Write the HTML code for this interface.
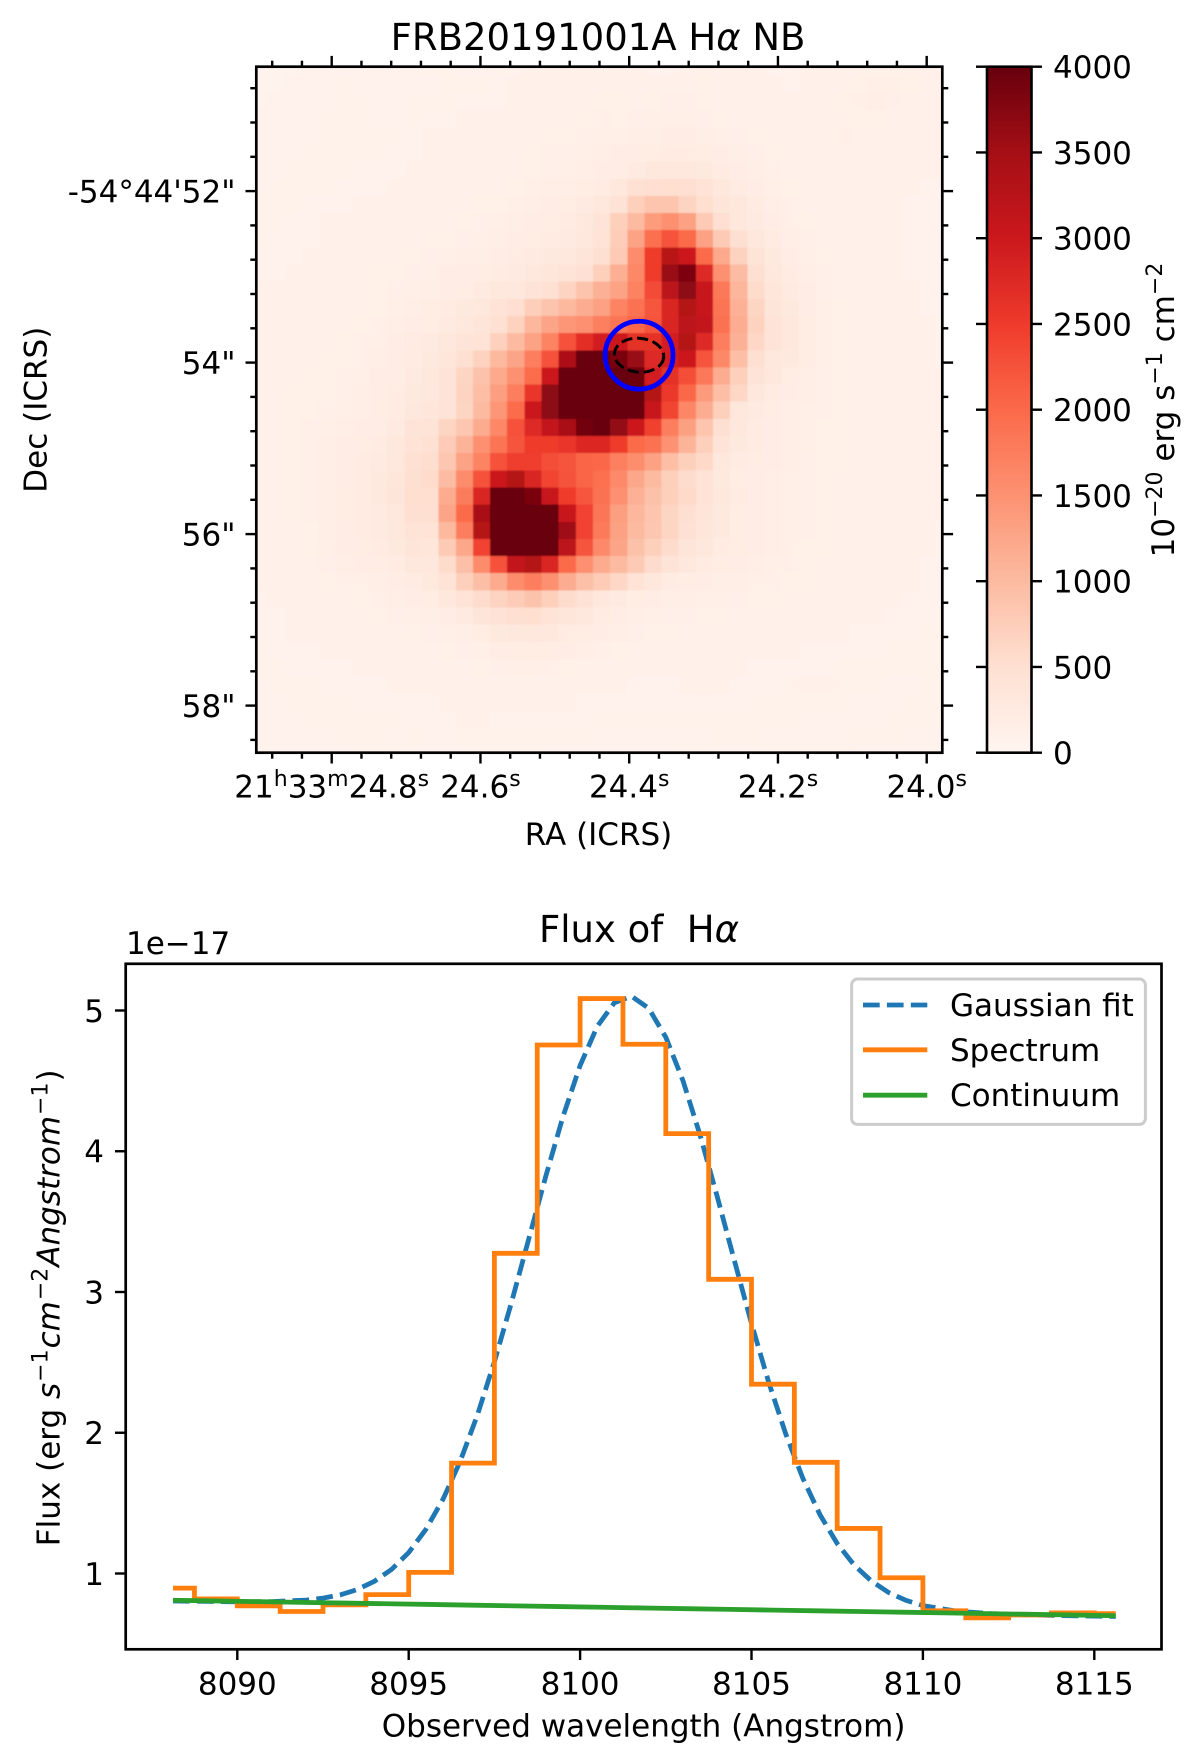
<!DOCTYPE html>
<html lang="en">
<head>
<meta charset="utf-8">
<title>FRB20191001A H-alpha narrow band and flux spectrum</title>
<style>
html,body{margin:0;padding:0;background:#fff;}
svg{display:block;}
text{font-family:"DejaVu Sans","Liberation Sans",sans-serif;fill:#000;}
</style>
</head>
<body>
<svg id="figure" xmlns="http://www.w3.org/2000/svg" width="1200" height="1748" viewBox="0 0 1200 1748">
  <defs>
    <clipPath id="map-clip"><rect x="256.3" y="66.7" width="686" height="686"/></clipPath>
    <clipPath id="spec-clip"><rect x="125.7" y="963.8" width="1035.8" height="685.5"/></clipPath>
    <filter id="soften" x="-2%" y="-2%" width="104%" height="104%"><feGaussianBlur stdDeviation="0.8"/></filter>
  </defs>
  <rect x="0" y="0" width="1200" height="1748" fill="#fff"/>
  <g clip-path="url(#map-clip)">
    <g id="heatmap" filter="url(#soften)" shape-rendering="crispEdges"></g>
  </g>
  <g id="markers" clip-path="url(#map-clip)"></g>
  <rect x="256.3" y="66.7" width="686" height="686" fill="none" stroke="#000" stroke-width="2.7"/>
  <g id="map-axes"></g>
  <text x="598" y="50" font-size="37" text-anchor="middle">FRB20191001A H<tspan font-style="italic">α</tspan> NB</text>
  <text x="598.5" y="845" font-size="31" text-anchor="middle">RA (ICRS)</text>
  <text transform="translate(46.5 409.7) rotate(-90)" font-size="31" text-anchor="middle">Dec (ICRS)</text>

  <g id="colorbar"></g>
  <text transform="translate(1174 410) rotate(-90)" font-size="31" text-anchor="middle">10<tspan dy="-12" font-size="22">−20</tspan><tspan dy="12"> erg s</tspan><tspan dy="-12" font-size="22">−1</tspan><tspan dy="12"> cm</tspan><tspan dy="-12" font-size="22">−2</tspan></text>

  <g id="spec-plot" clip-path="url(#spec-clip)"></g>
  <rect x="125.7" y="963.8" width="1035.8" height="685.5" fill="none" stroke="#000" stroke-width="2.7"/>
  <g id="spec-axes"></g>
  <text x="639" y="942" font-size="37" text-anchor="middle">Flux of&#160;&#160;H<tspan font-style="italic">α</tspan></text>
  <text x="126" y="954" font-size="31">1e−17</text>
  <text x="643.6" y="1736.7" font-size="31" text-anchor="middle">Observed wavelength (Angstrom)</text>
  <text transform="translate(59.7 1307.8) rotate(-90)" font-size="31" text-anchor="middle">Flux (erg <tspan font-style="italic">s</tspan><tspan dy="-12" dx="1" font-size="22">−1</tspan><tspan dy="12" dx="1" font-style="italic">cm</tspan><tspan dy="-12" dx="1" font-size="22">−2</tspan><tspan dy="12" dx="1" font-style="italic">Angstrom</tspan><tspan dy="-12" dx="1" font-size="22">−1</tspan><tspan dy="12" dx="1">)</tspan></text>

  <g>
    <rect x="851.6" y="979" width="293.8" height="145.4" rx="6" ry="6" fill="#fff" fill-opacity="0.8" stroke="#ccc" stroke-width="3"/>
    <line x1="863" y1="1005" x2="927.3" y2="1005" stroke="#1f77b4" stroke-width="4.8" stroke-dasharray="16.7 7.2"/>
    <text x="950" y="1016" font-size="31">Gaussian fit</text>
    <line x1="863" y1="1049.8" x2="927.3" y2="1049.8" stroke="#ff7f0e" stroke-width="4.8"/>
    <text x="950" y="1061" font-size="31">Spectrum</text>
    <line x1="863" y1="1095.2" x2="927.3" y2="1095.2" stroke="#2ca02c" stroke-width="4.8"/>
    <text x="950" y="1106" font-size="31">Continuum</text>
  </g>
</svg>

<script>
// ---------- heatmap data (10^-20 erg s-1 cm-2 per spaxel) ----------
const heatmapValues = [
[40,50,50,60,60,70,70,60,60,70,80,80,70,70,80,90,100,100,110,110,100,100,100,90,90,110,120,120,100,100,90,90,100,100,110,120,130,130,120,110,100],
[40,50,60,60,70,80,70,60,60,70,70,80,80,80,90,100,100,110,110,100,110,120,120,120,110,120,130,120,110,100,100,90,100,110,120,130,150,150,130,110,100],
[50,60,60,70,70,80,80,70,70,80,80,80,90,90,90,100,110,110,120,120,130,130,120,130,140,140,130,120,110,100,100,110,110,120,130,150,160,140,120,110,100],
[60,60,60,70,80,80,80,70,70,80,90,90,100,100,100,110,110,120,120,130,140,130,140,150,150,150,140,130,120,120,110,110,120,120,120,130,130,120,110,110,100],
[60,70,70,70,80,80,80,80,80,90,100,100,100,100,110,110,120,130,130,140,150,150,160,170,180,180,170,150,140,130,120,110,110,120,150,120,120,110,110,100,100],
[60,70,70,80,80,80,80,80,90,90,100,100,100,110,110,120,130,140,140,150,170,180,200,220,240,240,210,180,160,140,130,120,110,110,110,110,110,100,100,100,100],
[70,70,80,80,80,80,90,90,90,100,100,100,100,110,110,120,130,140,150,170,190,220,270,310,330,330,290,230,190,160,140,120,120,110,110,110,100,100,100,100,100],
[70,80,80,80,80,90,90,90,100,100,110,110,110,120,120,130,150,160,170,200,250,330,480,510,520,510,430,320,240,190,150,130,120,110,110,110,100,100,100,90,90],
[80,80,80,90,90,90,100,100,100,110,110,110,120,130,130,150,170,190,220,260,330,450,720,870,870,670,520,380,300,240,170,140,120,110,110,100,100,100,90,90,90],
[80,80,90,90,100,100,100,110,110,120,120,120,130,140,150,170,190,210,240,300,400,720,1000,1380,1530,1320,800,510,320,260,190,150,130,120,110,100,100,100,90,90,90],
[80,90,90,90,100,100,110,110,120,120,130,130,140,150,170,190,210,230,260,330,430,760,1300,1920,2250,2000,1320,800,500,330,240,170,140,120,110,100,100,100,90,90,90],
[90,90,90,100,100,110,110,120,120,130,140,150,160,170,190,230,260,280,320,380,500,800,1570,2520,3250,3000,2000,1220,690,410,280,190,150,130,120,110,100,100,90,90,90],
[90,90,100,100,110,110,120,130,130,140,150,180,190,210,240,270,300,350,420,470,720,1150,1620,2500,3600,3830,2750,1530,980,500,320,250,170,140,120,110,100,100,90,90,90],
[100,100,100,110,110,110,120,130,140,150,170,190,220,260,310,340,400,480,660,880,1120,1300,1700,2320,3200,3700,3050,1820,1060,560,360,260,180,140,120,110,100,100,100,90,90],
[100,100,110,110,110,120,120,130,150,170,200,250,280,340,430,510,750,880,1030,1180,1320,1680,1900,2200,2800,3300,3050,1880,1130,650,380,290,190,150,130,110,110,100,100,90,90],
[100,110,110,120,120,120,130,140,160,190,220,270,320,380,480,680,1050,1280,1450,1530,1740,1880,2020,2250,2800,3200,3100,1900,1180,680,400,300,200,150,130,120,110,100,100,100,90],
[110,120,120,120,120,130,140,150,180,230,270,330,400,430,700,1000,1300,1680,2270,2670,2900,3000,2650,2650,2900,3300,2750,1750,1120,620,400,300,200,150,130,120,110,100,100,100,90],
[120,120,120,120,130,130,140,160,200,240,290,350,500,690,1030,1280,1750,2270,3400,4200,4300,3850,3600,2750,2900,3000,2220,1620,950,500,340,280,200,150,130,120,110,110,100,100,90],
[110,120,120,130,130,140,150,190,220,270,320,400,650,900,1220,1530,1970,3000,4400,4400,4400,4400,3950,2900,2650,2300,1820,1180,720,400,300,220,170,140,130,120,110,110,100,100,100],
[110,120,130,130,130,140,160,200,230,290,330,400,670,950,1340,1750,2580,3700,4500,4500,4500,4500,4500,3300,2550,2020,1400,950,620,300,240,190,160,140,130,120,110,110,100,100,100],
[110,120,130,130,140,150,170,210,250,300,350,400,650,1000,1450,1970,3000,3700,4500,4500,4500,4500,4050,3050,2400,1650,1180,720,330,260,210,170,150,140,130,120,110,110,110,100,100],
[110,120,130,140,150,160,190,220,260,400,420,650,850,1200,1620,2270,2750,3100,3450,3900,4000,3650,3000,2450,1750,1330,870,500,300,240,190,170,150,130,130,120,110,110,110,100,100],
[120,120,130,140,160,180,210,240,300,430,480,780,1080,1520,1880,2220,2520,2520,2580,2780,2780,2520,2000,1900,1500,1080,720,400,280,230,190,160,150,130,130,120,110,110,110,100,100],
[120,120,130,140,160,180,230,270,340,480,530,850,1300,1680,2270,2480,2480,2300,2220,2050,2020,1730,1550,1320,950,720,590,330,240,210,180,160,140,130,130,120,110,110,110,100,100],
[110,120,130,140,160,190,230,280,360,500,570,980,1570,2270,3000,3300,2800,2400,2250,2050,1930,1600,1250,1000,720,550,430,280,220,190,170,150,140,130,120,120,110,110,100,100,100],
[110,120,130,140,170,200,240,280,370,520,520,1200,1770,2800,4200,4200,3850,3050,2500,2200,1900,1530,1130,920,720,580,430,300,230,190,170,150,140,130,120,120,110,110,100,100,100],
[110,120,130,140,170,200,240,270,340,500,500,1280,2000,3450,4400,4400,4400,4400,3050,2430,1850,1350,1050,870,650,500,380,290,220,190,170,150,140,130,120,120,110,100,100,100,100],
[100,110,120,130,160,190,230,260,320,420,430,1030,1750,3300,4500,4500,4500,4500,3550,2430,1800,1320,1000,850,650,470,360,280,220,190,160,150,140,130,120,110,110,100,100,100,90],
[100,110,120,130,150,180,210,240,290,380,360,800,1250,2430,4400,4400,4400,4400,3200,2220,1600,1280,920,720,550,380,300,240,200,180,160,150,130,130,120,110,110,100,100,100,90],
[100,110,120,120,140,160,180,210,250,320,320,560,930,1570,2270,3100,3300,2800,2000,1530,1200,1000,800,550,400,300,250,210,190,170,150,140,130,120,120,110,110,100,100,90,90],
[100,100,110,120,130,140,150,170,200,240,280,440,720,950,1200,1580,1750,1530,1180,930,790,620,430,300,240,210,190,170,160,150,140,130,130,120,110,110,100,100,100,90,90],
[90,100,110,110,120,120,130,140,160,180,220,320,430,550,670,770,890,720,550,450,320,260,210,190,170,160,150,150,140,130,130,120,120,110,110,100,100,100,90,90,90],
[90,90,100,100,110,110,120,130,140,150,160,190,270,370,450,500,520,430,360,300,240,190,170,150,140,140,130,130,120,120,120,110,110,100,100,100,100,90,90,90,80],
[90,90,100,100,100,110,110,120,120,130,140,150,170,210,280,320,340,300,250,210,180,160,140,130,130,120,120,110,110,110,110,100,100,100,100,90,90,90,90,80,80],
[80,90,90,90,100,100,100,110,110,120,120,130,140,150,180,200,220,210,180,160,140,130,120,120,110,110,110,110,100,100,100,100,90,90,90,90,90,80,80,80,80],
[80,80,90,90,90,90,100,100,100,110,110,110,120,130,140,150,150,140,130,120,120,110,110,100,100,100,100,110,100,90,90,90,90,90,80,80,80,80,80,80,80],
[70,80,80,80,90,90,90,90,100,100,100,100,110,110,120,120,120,110,110,100,100,100,90,90,90,100,110,100,90,90,90,80,100,100,80,80,80,70,70,80,80],
[70,70,80,80,80,80,90,90,90,90,90,100,100,100,100,110,110,100,100,90,90,90,90,90,90,90,90,90,90,80,80,80,80,80,80,70,70,70,80,80,80],
[60,70,70,80,80,80,80,80,80,90,90,90,100,100,90,90,90,90,90,90,80,80,80,80,80,80,80,80,80,80,80,80,70,70,70,70,70,80,80,80,80],
[60,60,70,70,70,80,80,80,90,80,70,70,80,80,80,80,80,80,80,80,70,70,70,70,70,70,70,80,80,80,70,70,70,70,70,80,80,80,90,90,90],
[50,60,60,70,70,70,80,80,80,70,70,70,70,80,80,80,80,70,70,70,70,70,70,70,70,80,80,90,90,90,80,80,80,80,80,90,90,90,90,90,90]
];
const raTickSeconds = [24.8, 24.6, 24.4, 24.2, 24.0];
const raTickLabels = ["21^h33^m24.8^s", "24.6^s", "24.4^s", "24.2^s", "24.0^s"];
const decTickArcsec = [52, 54, 56, 58];
const decTickLabels = ["-54°44'52\"", "54\"", "56\"", "58\""];
const colorbarTicks = [0, 500, 1000, 1500, 2000, 2500, 3000, 3500, 4000];
const colorbarMax = 4000;

// ---------- spectrum data ----------
const binWavelengths = [8088.125,8089.375,8090.625,8091.875,8093.125,8094.375,8095.625,8096.875,8098.125,8099.375,8100.625,8101.875,8103.125,8104.375,8105.625,8106.875,8108.125,8109.375,8110.625,8111.875,8113.125,8114.375,8115.625];
const spectrumFlux = [0.896,0.82,0.77,0.73,0.777,0.85,1.008,1.784,3.275,4.755,5.085,4.76,4.125,3.09,2.345,1.79,1.32,0.97,0.735,0.685,0.705,0.72,0.715];
const continuumFlux = [0.81,0.805,0.80,0.795,0.79,0.785,0.78,0.775,0.77,0.765,0.76,0.755,0.75,0.745,0.74,0.735,0.73,0.725,0.72,0.715,0.71,0.705,0.70];
const gaussianWavelengths = [8088.125,8090,8091,8092,8092.5,8093,8093.5,8094,8094.5,8095,8095.5,8096,8096.5,8097,8097.5,8098,8098.5,8099,8099.5,8100,8100.5,8101,8101.5,8102,8102.5,8103,8103.5,8104,8104.5,8105,8105.5,8106,8106.5,8107,8107.5,8108,8108.5,8109,8109.5,8110,8111,8112,8113,8114,8115,8115.625];
const gaussianFlux = [0.805,0.799,0.80,0.811,0.825,0.848,0.886,0.945,1.029,1.149,1.313,1.527,1.796,2.123,2.504,2.927,3.375,3.823,4.246,4.609,4.887,5.055,5.101,5.016,4.81,4.502,4.115,3.678,3.224,2.776,2.36,1.991,1.675,1.417,1.213,1.059,0.946,0.865,0.81,0.772,0.732,0.715,0.707,0.701,0.697,0.695];
const xTickValues = [8090, 8095, 8100, 8105, 8110, 8115];
const yTickValues = [1, 2, 3, 4, 5];

// ---------- FRB marker positions, in spaxel grid units ----------
const circleCentre = [22.69, 17.29];
const circleRadius = 1.98;
const ellipseRadii = [1.44, 0.99];

const NS = "http://www.w3.org/2000/svg";
function make(parent, tag, attrs) {
  const el = document.createElementNS(NS, tag);
  for (const k in attrs) el.setAttribute(k, attrs[k]);
  parent.appendChild(el);
  return el;
}

// axis functions
const colX = c => 256.3 + (c - 0.37) * 17.15;
const rowY = r => 66.6 + (r - 0.46) * 17.15;
const raX = s => 331.7 + (24.8 - s) * 743.75;
const decY = a => 191.1 + (a - 52) * 85.75;
const barY = v => 752.7 - (v / colorbarMax) * 686;
const wavX = w => 237.3 + (w - 8090) * 34.28;
const fluxY = f => 1573.5 - (f - 1) * 140.75;

// Reds colormap
const redsStops = [[255,245,240],[254,224,210],[252,187,161],[252,146,114],[251,106,74],[239,59,44],[203,24,29],[165,15,21],[103,0,13]];
function reds(v) {
  const t = Math.max(0, Math.min(1, v / colorbarMax)) * 8;
  const i = Math.min(7, Math.floor(t));
  const f = t - i;
  const a = redsStops[i], b = redsStops[i + 1];
  return "rgb(" + [0, 1, 2].map(k => Math.round(a[k] + (b[k] - a[k]) * f)).join(",") + ")";
}

// heatmap cells
const heatmap = document.getElementById("heatmap");
heatmapValues.forEach((row, r) => {
  row.forEach((v, c) => {
    const cell = make(heatmap, "rect", {x: colX(c), y: rowY(r), width: colX(c + 1) - colX(c) + 0.3, height: rowY(r + 1) - rowY(r) + 0.3, fill: reds(v)});
    
    
  });
});

// markers
const markers = document.getElementById("markers");
const cx = colX(circleCentre[0]), cy = rowY(circleCentre[1]);
const circleMark = make(markers, "circle", {cx: cx, cy: cy, r: circleRadius * 17.15, fill: "none", stroke: "#0000ff", "stroke-width": 4.8});


const ellipseMark = make(markers, "ellipse", {cx: cx, cy: cy, rx: ellipseRadii[0] * 17.15, ry: ellipseRadii[1] * 17.15, fill: "none", stroke: "#000", "stroke-width": 3, "stroke-dasharray": "11.1 4.8", transform: "rotate(5 " + cx + " " + cy + ")"});



// map axes
const mapAxes = document.getElementById("map-axes");
function mapTick(x1, y1, x2, y2) {
  const t = make(mapAxes, "line", {x1: x1, y1: y1, x2: x2, y2: y2, stroke: "#000", "stroke-width": 2.4});
  
  
}
raTickSeconds.forEach(s => {
  mapTick(raX(s), 752.7, raX(s), 763.5);
  mapTick(raX(s), 66.7, raX(s), 55.9);
});
decTickArcsec.forEach(a => {
  mapTick(256.3, decY(a), 245.5, decY(a));
  mapTick(942.3, decY(a), 953.1, decY(a));
});
for (let k = -2; k <= 19; k++) {
  if (((k % 5) + 5) % 5 === 0) continue;
  const x = raX(24.8 - k * 0.04);
  mapTick(x, 752.7, x, 758.7);
  mapTick(x, 66.7, x, 60.7);
}
for (let k = -3; k <= 16; k++) {
  if (((k % 5) + 5) % 5 === 0) continue;
  const y = decY(52 + k * 0.4);
  mapTick(256.3, y, 250.3, y);
  mapTick(942.3, y, 948.3, y);
}
raTickLabels.forEach((label, i) => {
  const t = make(mapAxes, "text", {x: raX(raTickSeconds[i]), y: 797.7, "font-size": 31, "text-anchor": "middle"});
  
  
  const parts = label.split(/\^(.)/);
  let back = 0;
  parts.forEach((p, j) => {
    if (p === "") return;
    const ts = document.createElementNS(NS, "tspan");
    if (j % 2 === 1) {
      ts.setAttribute("font-size", "22");
      ts.setAttribute("dy", "-11.5");
      back = 11.5;
    } else if (back) {
      ts.setAttribute("dy", String(back));
      back = 0;
    }
    ts.textContent = p;
    t.appendChild(ts);
  });
});
decTickLabels.forEach((label, i) => {
  const t = make(mapAxes, "text", {x: 235.5, y: decY(decTickArcsec[i]) + 11.3, "font-size": 31, "text-anchor": "end"});
  
  
  t.textContent = label;
});

// colorbar
const colorbar = document.getElementById("colorbar");
for (let i = 0; i < 256; i++) {
  const v0 = colorbarMax * i / 256, v1 = colorbarMax * (i + 1) / 256;
  const s = make(colorbar, "rect", {x: 987, y: barY(v1), width: 44.5, height: barY(v0) - barY(v1) + 0.4, fill: reds((v0 + v1) / 2), "shape-rendering": "crispEdges"});
  
  
}
const barFrame = make(colorbar, "rect", {x: 987, y: 66.7, width: 44.5, height: 686, fill: "none", stroke: "#000", "stroke-width": 2.6});


colorbarTicks.forEach(v => {
  const y = barY(v);
  const left = make(colorbar, "line", {x1: 976, y1: y, x2: 987, y2: y, stroke: "#000", "stroke-width": 2.4});
  
  
  const right = make(colorbar, "line", {x1: 1031.5, y1: y, x2: 1042, y2: y, stroke: "#000", "stroke-width": 2.4});
  
  
  const t = make(colorbar, "text", {x: 1053, y: y + 11.3, "font-size": 31});
  
  
  t.textContent = String(v);
});

// spectrum plot
const specPlot = document.getElementById("spec-plot");
function pointsOf(xs, ys) {
  return xs.map((w, i) => wavX(w).toFixed(2) + "," + fluxY(ys[i]).toFixed(2)).join(" ");
}
const gaussLine = make(specPlot, "polyline", {points: pointsOf(gaussianWavelengths, gaussianFlux), fill: "none", stroke: "#1f77b4", "stroke-width": 4.8, "stroke-dasharray": "16.7 7.2"});



let stepPts = [];
binWavelengths.forEach((w, i) => {
  const left = i === 0 ? w : (binWavelengths[i - 1] + w) / 2;
  const right = i === binWavelengths.length - 1 ? w : (binWavelengths[i + 1] + w) / 2;
  stepPts.push(wavX(left).toFixed(2) + "," + fluxY(spectrumFlux[i]).toFixed(2));
  stepPts.push(wavX(right).toFixed(2) + "," + fluxY(spectrumFlux[i]).toFixed(2));
});
const specLine = make(specPlot, "polyline", {points: stepPts.join(" "), fill: "none", stroke: "#ff7f0e", "stroke-width": 4.8, "stroke-linejoin": "miter"});



const contLine = make(specPlot, "polyline", {points: pointsOf(binWavelengths, continuumFlux), fill: "none", stroke: "#2ca02c", "stroke-width": 4.8});



// spectrum axes
const specAxes = document.getElementById("spec-axes");
xTickValues.forEach(v => {
  const x = wavX(v);
  const tick = make(specAxes, "line", {x1: x, y1: 1649.3, x2: x, y2: 1660, stroke: "#000", "stroke-width": 2.4});
  
  
  const t = make(specAxes, "text", {x: x, y: 1694.3, "font-size": 31, "text-anchor": "middle"});
  
  
  t.textContent = String(v);
});
yTickValues.forEach(v => {
  const y = fluxY(v);
  const tick = make(specAxes, "line", {x1: 125.7, y1: y, x2: 115, y2: y, stroke: "#000", "stroke-width": 2.4});
  
  
  const t = make(specAxes, "text", {x: 104, y: y + 11.3, "font-size": 31, "text-anchor": "end"});
  
  
  t.textContent = String(v);
});
</script>
</body>
</html>
